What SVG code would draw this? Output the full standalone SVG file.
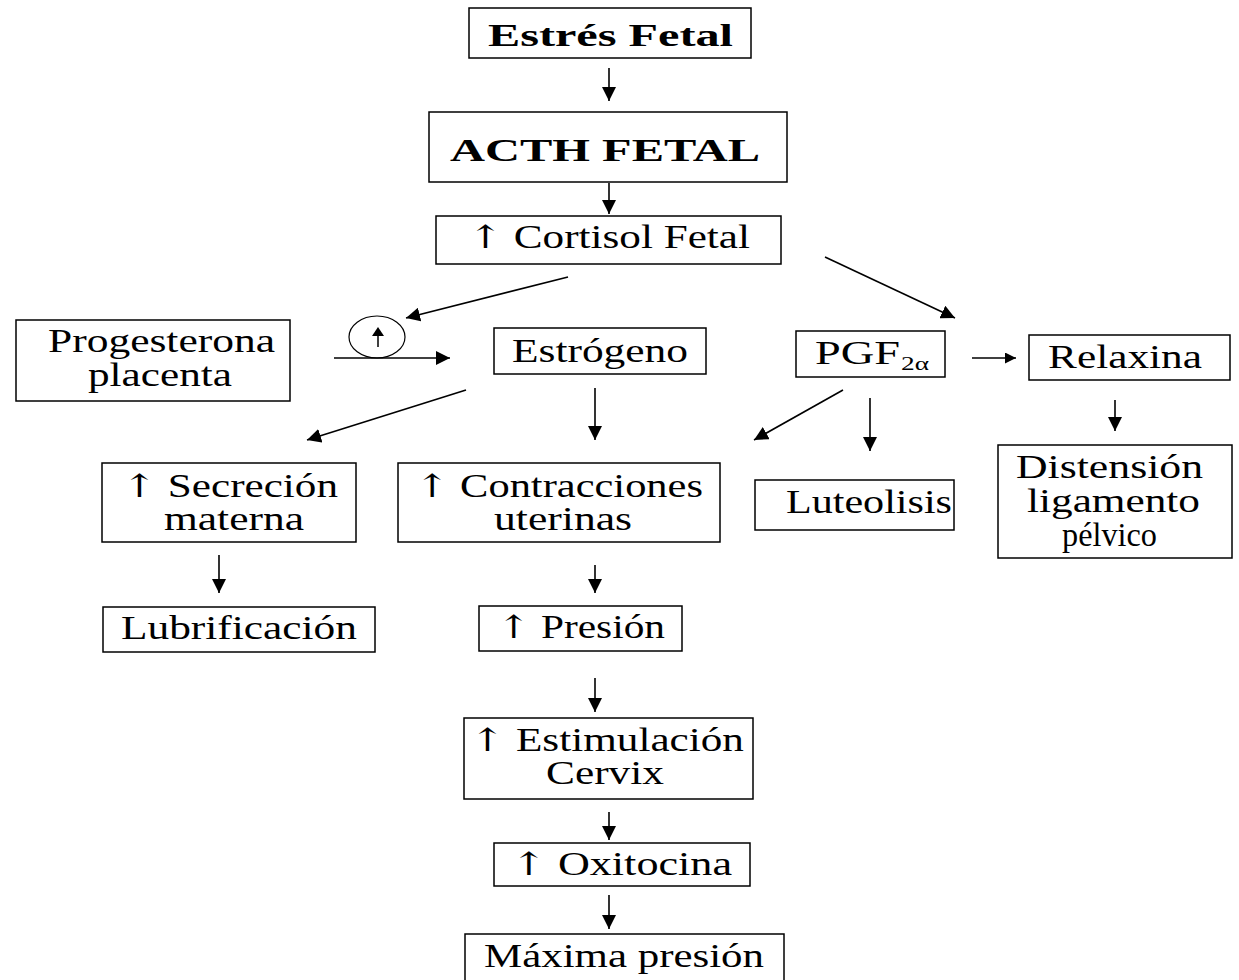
<svg xmlns="http://www.w3.org/2000/svg" width="1239" height="980" viewBox="0 0 1239 980">
<style>
.box{fill:#fff;stroke:#000;stroke-width:1.5}
.t{font-family:"Liberation Serif","Times New Roman",serif;font-size:33px;fill:#000}
.b{font-weight:bold}
.up{font-family:"DejaVu Serif",serif;font-size:32px}
.c line{stroke:#000;stroke-width:1.6}
</style>
<defs>
<marker id="ah" viewBox="0 0 10 10" refX="10" refY="5" markerWidth="14" markerHeight="14" markerUnits="userSpaceOnUse" orient="auto">
<path d="M0,0 L10,5 L0,10 z" fill="#000"/>
</marker>
<marker id="ahs" viewBox="0 0 10 10" refX="10" refY="5" markerWidth="11" markerHeight="11" markerUnits="userSpaceOnUse" orient="auto">
<path d="M0,0 L10,5 L0,10 z" fill="#000"/>
</marker>
</defs>
<rect width="1239" height="980" fill="#fff"/>

<g id="estres">
<rect class="box" x="469" y="8" width="282" height="50"/>
<text class="t b" x="488" y="46" textLength="245" lengthAdjust="spacingAndGlyphs" style="font-size:31px">Estrés Fetal</text>
</g>
<g id="acth">
<rect class="box" x="429" y="112" width="358" height="70"/>
<text class="t b" x="450" y="161" textLength="310" lengthAdjust="spacingAndGlyphs" style="font-size:32px">ACTH FETAL</text>
</g>
<g id="cortisol">
<rect class="box" x="436" y="216" width="345" height="48"/>
<text class="t" x="468" y="248" textLength="282" lengthAdjust="spacingAndGlyphs"><tspan class="up">↑</tspan>  Cortisol Fetal</text>
</g>
<g id="progesterona">
<rect class="box" x="16" y="320" width="274" height="81"/>
<text class="t" x="48" y="352" textLength="227" lengthAdjust="spacingAndGlyphs">Progesterona</text>
<text class="t" x="88" y="386" textLength="144" lengthAdjust="spacingAndGlyphs">placenta</text>
</g>
<g id="aumento">
<ellipse cx="377" cy="337" rx="28" ry="21" fill="none" stroke="#000" stroke-width="1.2"/>
<line x1="378" y1="347" x2="378" y2="330" stroke="#000" stroke-width="1.5"/>
<path d="M372,336 L378,327 L384,336 z" fill="#000"/>
</g>
<g id="estrogeno">
<rect class="box" x="494" y="328" width="212" height="46"/>
<text class="t" x="512" y="362" textLength="176" lengthAdjust="spacingAndGlyphs">Estrógeno</text>
</g>
<g id="pgf">
<rect class="box" x="796" y="331" width="149" height="46"/>
<text class="t" x="815" y="364" textLength="85" lengthAdjust="spacingAndGlyphs">PGF</text>
<text class="t" x="901" y="370" textLength="28" lengthAdjust="spacingAndGlyphs" style="font-size:19px">2α</text>
</g>
<g id="relaxina">
<rect class="box" x="1029" y="335" width="201" height="45"/>
<text class="t" x="1048" y="368" textLength="154" lengthAdjust="spacingAndGlyphs">Relaxina</text>
</g>
<g id="secrecion">
<rect class="box" x="102" y="463" width="254" height="79"/>
<text class="t" x="122" y="497" textLength="216" lengthAdjust="spacingAndGlyphs"><tspan class="up">↑</tspan>  Secreción</text>
<text class="t" x="164" y="530" textLength="140" lengthAdjust="spacingAndGlyphs">materna</text>
</g>
<g id="contracciones">
<rect class="box" x="398" y="463" width="322" height="79"/>
<text class="t" x="415" y="497" textLength="288" lengthAdjust="spacingAndGlyphs"><tspan class="up">↑</tspan> Contracciones</text>
<text class="t" x="494" y="530" textLength="138" lengthAdjust="spacingAndGlyphs">uterinas</text>
</g>
<g id="luteolisis">
<rect class="box" x="755" y="480" width="199" height="50"/>
<text class="t" x="786" y="513" textLength="166" lengthAdjust="spacingAndGlyphs">Luteolisis</text>
</g>
<g id="distension">
<rect class="box" x="998" y="445" width="234" height="113"/>
<text class="t" x="1016" y="478" textLength="187" lengthAdjust="spacingAndGlyphs">Distensión</text>
<text class="t" x="1027" y="512" textLength="173" lengthAdjust="spacingAndGlyphs">ligamento</text>
<text class="t" x="1062" y="546" textLength="95" lengthAdjust="spacingAndGlyphs">pélvico</text>
</g>
<g id="lubrificacion">
<rect class="box" x="103" y="607" width="272" height="45"/>
<text class="t" x="121" y="639" textLength="236" lengthAdjust="spacingAndGlyphs">Lubrificación</text>
</g>
<g id="presion">
<rect class="box" x="479" y="606" width="203" height="45"/>
<text class="t" x="497" y="638" textLength="168" lengthAdjust="spacingAndGlyphs"><tspan class="up">↑</tspan> Presión</text>
</g>
<g id="estimulacion">
<rect class="box" x="464" y="718" width="289" height="81"/>
<text class="t" x="470" y="751" textLength="274" lengthAdjust="spacingAndGlyphs"><tspan class="up">↑</tspan>  Estimulación</text>
<text class="t" x="546" y="784" textLength="118" lengthAdjust="spacingAndGlyphs">Cervix</text>
</g>
<g id="oxitocina">
<rect class="box" x="494" y="843" width="256" height="43"/>
<text class="t" x="511" y="875" textLength="221" lengthAdjust="spacingAndGlyphs"><tspan class="up">↑</tspan>  Oxitocina</text>
</g>
<g id="maxima">
<rect class="box" x="465" y="934" width="319" height="50"/>
<text class="t" x="484" y="967" textLength="280" lengthAdjust="spacingAndGlyphs">Máxima presión</text>
</g>

<g id="connectors" class="c">
<line x1="609" y1="68" x2="609" y2="101" marker-end="url(#ah)"/>
<line x1="609" y1="183" x2="609" y2="214" marker-end="url(#ah)"/>
<line x1="568" y1="277" x2="406" y2="318" marker-end="url(#ah)"/>
<line x1="825" y1="257" x2="955" y2="318" marker-end="url(#ah)"/>
<line x1="334" y1="358" x2="450" y2="358" marker-end="url(#ah)"/>
<line x1="972" y1="358" x2="1016" y2="358" marker-end="url(#ahs)"/>
<line x1="466" y1="390" x2="307" y2="440" marker-end="url(#ah)"/>
<line x1="595" y1="388" x2="595" y2="440" marker-end="url(#ah)"/>
<line x1="843" y1="390" x2="754" y2="440" marker-end="url(#ah)"/>
<line x1="870" y1="398" x2="870" y2="451" marker-end="url(#ah)"/>
<line x1="1115" y1="400" x2="1115" y2="431" marker-end="url(#ah)"/>
<line x1="219" y1="555" x2="219" y2="593" marker-end="url(#ah)"/>
<line x1="595" y1="565" x2="595" y2="593" marker-end="url(#ah)"/>
<line x1="595" y1="678" x2="595" y2="712" marker-end="url(#ah)"/>
<line x1="609" y1="812" x2="609" y2="840" marker-end="url(#ah)"/>
<line x1="609" y1="895" x2="609" y2="929" marker-end="url(#ah)"/>
</g>
</svg>
